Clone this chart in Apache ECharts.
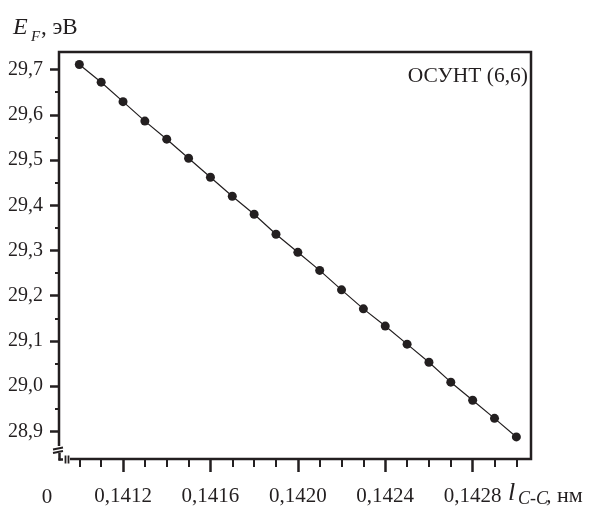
<!DOCTYPE html>
<html>
<head>
<meta charset="utf-8">
<style>
  html, body { margin: 0; padding: 0; background: #fff; }
  #chart { width: 592px; height: 509px; }
</style>
<script src="https://cdn.jsdelivr.net/npm/echarts@6/dist/echarts.min.js"></script>
</head>
<body>
<div id="chart"></div>
<script>
// bond length l_C-C, nm
const lengths = [0.1410, 0.1411, 0.1412, 0.1413, 0.1414, 0.1415, 0.1416, 0.1417, 0.1418, 0.1419,
                 0.1420, 0.1421, 0.1422, 0.1423, 0.1424, 0.1425, 0.1426, 0.1427, 0.1428, 0.1429, 0.1430];
// Fermi energy E_F, eV
const fermi = [29.711, 29.672, 29.629, 29.586, 29.546, 29.504, 29.462, 29.420, 29.380, 29.336,
               29.296, 29.256, 29.213, 29.171, 29.133, 29.093, 29.053, 29.009, 28.969, 28.929, 28.888];

const xMajor = [0.1412, 0.1416, 0.1420, 0.1424, 0.1428];
const xMinor = [0.1410, 0.1411, 0.1413, 0.1414, 0.1415, 0.1417, 0.1418, 0.1419,
                0.1421, 0.1422, 0.1423, 0.1425, 0.1426, 0.1427, 0.1429, 0.1430];
const yMajor = [28.9, 29.0, 29.1, 29.2, 29.3, 29.4, 29.5, 29.6, 29.7];
const yMinor = [28.95, 29.05, 29.15, 29.25, 29.35, 29.45, 29.55, 29.65];

const INK  = '#231f20';
const FONT = '"Liberation Serif", "Times New Roman", serif';

const comma = (v, d) => v.toFixed(d).replace('.', ',');

function xAxis(ticks, len, width, labels) {
    return {
        type: 'value', position: 'bottom', min: 0.140907, max: 0.143067,
        axisLine: { show: false, onZero: false },
        splitLine: { show: false },
        axisTick: { customValues: ticks, length: len, lineStyle: { color: INK, width } },
        axisLabel: labels
            ? { customValues: ticks, margin: 27, color: INK, fontFamily: FONT, fontSize: 21,
                formatter: v => comma(v, 4) }
            : { show: false },
    };
}

function yAxis(ticks, len, width, labels) {
    return {
        type: 'value', position: 'left', min: 28.8392, max: 29.7387,
        axisLine: { show: false, onZero: false },
        splitLine: { show: false },
        axisTick: { customValues: ticks, length: len, lineStyle: { color: INK, width } },
        axisLabel: labels
            ? { customValues: ticks, margin: 16, color: INK, fontFamily: FONT, fontSize: 20,
                formatter: v => comma(v, 1) }
            : { show: false },
    };
}

const txt = (x, y, text, font, extra) => ({
    type: 'text', x, y, z: 110,
    style: Object.assign({ text, fill: INK, font: `${font} ${FONT}`, verticalAlign: 'middle' }, extra || {}),
});
const seg = (x1, y1, x2, y2, w) => ({
    type: 'line', z: 110, shape: { x1, y1, x2, y2 }, style: { stroke: INK, lineWidth: w || 2 },
});

const chart = echarts.init(document.getElementById('chart'));
chart.setOption({
    animation: false,
    backgroundColor: '#fff',
    grid: { left: 59, right: 61, top: 52, bottom: 50, show: true, borderColor: INK, borderWidth: 2.5 },
    xAxis: [xAxis(xMajor, 13, 2.5, true), xAxis(xMinor, 8, 2, false)],
    yAxis: [yAxis(yMajor, 9, 2.5, true), yAxis(yMinor, 4, 2, false)],
    series: [{
        type: 'line',
        xAxisIndex: 0, yAxisIndex: 0,
        data: lengths.map((l, i) => [l, fermi[i]]),
        symbol: 'circle', symbolSize: 9,
        lineStyle: { color: INK, width: 1.2 },
        itemStyle: { color: INK },
    }],
    graphic: [
        // axis break at the origin
        { type: 'rect', z: 105, shape: { x: 50, y: 446, width: 20, height: 20 }, style: { fill: '#fff' } },
        seg(53, 449.5, 63, 447.5, 1.8),
        seg(53, 453, 63, 451, 1.8),
        seg(59.5, 453, 59.5, 460.5, 2.5),
        seg(58.5, 459.5, 63, 459.5, 2.5),
        seg(65.5, 455.5, 65.5, 463.5, 1.8),
        seg(68.5, 455.5, 68.5, 463.5, 1.8),
        txt(47, 497, '0', '21px', { align: 'center' }),
        // y title
        txt(13, 28, 'E', 'italic 24px'),
        txt(31, 37, 'F', 'italic 15px'),
        txt(41, 28, ', эВ', '23px'),
        // x title
        txt(508, 493, 'l', 'italic 26px'),
        txt(518, 499, 'C-C', 'italic 18px'),
        txt(546, 496, ', нм', '22px'),
        // label in plot
        txt(528, 76, 'ОСУНТ (6,6)', '21.5px', { align: 'right' }),
    ],
});
</script>
</body>
</html>
